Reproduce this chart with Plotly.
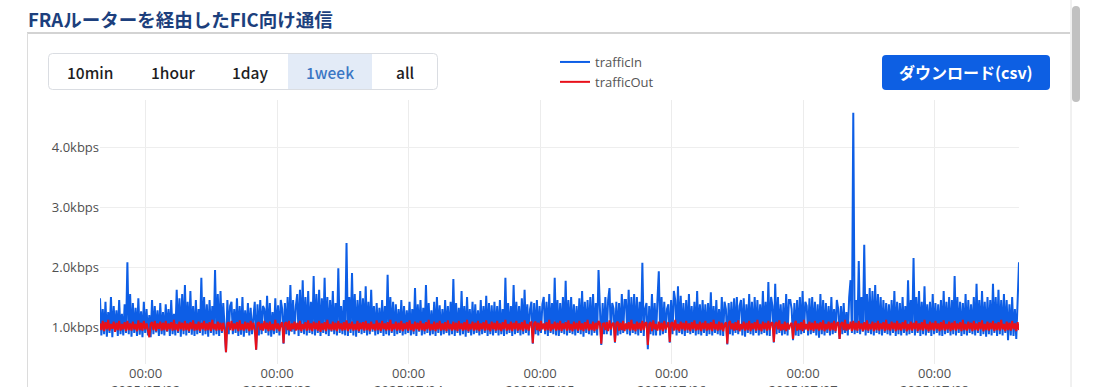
import plotly.graph_objects as go
import pandas as pd

# ---------------- data (kbps, 15-minute samples over one week) ----------------
start_time = "2025-07-01 15:40"
traffic_in = [
    # day 0
    1.48, 0.86, 1.3, 0.88, 1.42, 0.84, 1.25, 0.9, 1.5, 0.83, 1.35, 0.92,
    1.28, 0.85, 1.45, 0.88, 1.22, 0.86, 1.38, 0.9, 2.08, 0.88, 1.55, 0.84,
    1.4, 0.9, 1.32, 0.85, 1.48, 0.87, 1.26, 0.83, 1.42, 0.9, 1.3, 0.86,
    1.2, 0.83, 1.45, 0.88, 1.35, 0.91, 1.28, 0.85, 1.4, 0.88, 1.25, 0.86,
    1.38, 0.92, 1.3, 0.85, 1.45, 0.88, 1.22, 0.86, 1.62, 0.9, 1.48, 0.84,
    1.55, 0.88, 1.7, 0.86, 1.42, 0.9, 1.6, 0.87, 1.35, 0.85, 1.45, 0.88,
    1.3, 0.9, 1.82, 0.86, 1.5, 0.88, 1.38, 0.84, 1.45, 0.9, 1.35, 0.86,
    1.95, 0.88, 1.55, 0.85, 1.6, 0.9, 1.4, 0.86, 0.58, 1.45, 0.88, 1.35,
    # day 1
    1.42, 0.88, 1.3, 0.9, 1.48, 0.85, 1.35, 0.87, 1.5, 0.84, 1.28, 0.9,
    1.4, 0.86, 1.32, 0.88, 1.25, 1.42, 0.62, 1.38, 0.86, 1.45, 0.88, 1.35,
    1.3, 0.9, 1.52, 0.86, 1.4, 0.84, 1.25, 0.88, 1.48, 0.9, 1.36, 0.86,
    1.45, 1.3, 0.72, 1.4, 0.88, 1.5, 0.86, 1.7, 0.92, 1.45, 0.88, 1.35,
    1.55, 0.85, 1.62, 0.9, 1.78, 0.88, 1.5, 0.86, 1.6, 0.9, 1.42, 0.88,
    1.85, 0.86, 1.55, 0.9, 1.62, 0.85, 1.48, 0.9, 1.82, 0.88, 1.5, 0.85,
    1.45, 0.92, 1.6, 0.88, 1.4, 0.86, 1.98, 0.9, 1.35, 0.88, 1.45, 0.86,
    2.4, 0.85, 1.5, 0.9, 1.9, 0.86, 1.55, 0.84, 1.45, 0.9, 1.6, 0.88,
    # day 2
    1.48, 0.9, 1.68, 0.86, 1.42, 0.88, 1.62, 0.92, 1.35, 0.86, 1.4, 0.88,
    1.32, 0.9, 1.45, 0.85, 1.35, 0.88, 1.87, 0.86, 1.5, 0.9, 1.42, 0.85,
    1.38, 0.88, 1.3, 0.9, 1.45, 0.86, 1.35, 0.88, 1.28, 0.9, 1.42, 0.86,
    1.3, 0.88, 1.65, 0.85, 1.38, 0.92, 1.45, 0.86, 1.32, 0.88, 1.7, 0.9,
    1.4, 0.86, 1.28, 0.88, 1.42, 0.85, 1.5, 0.9, 1.36, 0.86, 1.3, 0.88,
    1.45, 0.9, 1.35, 0.86, 1.42, 0.88, 1.8, 0.85, 1.4, 0.9, 1.32, 0.86,
    1.6, 0.88, 1.35, 0.84, 1.5, 0.9, 1.3, 0.86, 1.42, 0.88, 1.38, 0.9,
    1.28, 0.86, 1.45, 0.88, 1.35, 0.9, 1.52, 0.85, 1.4, 0.88, 1.36, 0.86,
    # day 3
    1.42, 0.9, 1.35, 0.86, 1.45, 0.88, 1.3, 0.85, 1.82, 0.88, 1.4, 0.9,
    1.35, 0.85, 1.7, 0.88, 1.42, 0.9, 1.35, 0.86, 1.48, 0.88, 1.62, 0.9,
    1.38, 0.86, 1.3, 1.42, 0.72, 1.4, 0.88, 1.45, 0.86, 1.35, 0.9, 1.38,
    1.5, 0.88, 1.42, 0.85, 1.55, 0.9, 1.4, 0.88, 1.82, 0.86, 1.45, 0.85,
    1.4, 0.9, 1.5, 0.88, 1.77, 0.86, 1.45, 0.9, 1.5, 0.88, 1.38, 0.86,
    1.35, 0.9, 1.48, 0.88, 1.6, 0.84, 1.42, 0.9, 1.45, 0.88, 1.5, 0.86,
    1.55, 0.9, 1.4, 0.86, 1.95, 1.3, 0.7, 1.4, 0.88, 1.5, 0.88, 1.45,
    1.65, 0.86, 1.4, 1.3, 0.74, 1.42, 0.86, 1.4, 0.88, 1.55, 0.9, 1.45,
    # day 4
    1.45, 0.88, 1.62, 0.86, 1.5, 0.9, 1.55, 0.88, 1.5, 0.86, 1.42, 0.9,
    2.07, 0.85, 1.3, 1.4, 0.63, 1.35, 0.88, 1.55, 0.86, 1.4, 0.86, 1.45,
    1.93, 0.86, 1.5, 0.88, 1.42, 0.9, 1.3, 1.38, 0.74, 1.45, 0.88, 1.6,
    1.45, 0.86, 1.68, 0.9, 1.52, 0.88, 1.4, 0.85, 1.45, 0.9, 1.55, 0.88,
    1.35, 0.9, 1.42, 0.86, 1.6, 0.88, 1.38, 0.86, 1.45, 0.9, 1.38, 0.85,
    1.4, 0.88, 1.58, 0.86, 1.35, 0.9, 1.45, 0.88, 1.3, 0.86, 1.5, 0.85,
    1.42, 1.3, 0.71, 1.4, 0.88, 1.42, 0.86, 1.48, 0.9, 1.5, 0.88, 1.35,
    1.45, 0.86, 1.48, 0.84, 1.38, 0.9, 1.55, 0.88, 1.42, 0.86, 1.5, 0.9,
    # day 5
    1.45, 0.86, 1.38, 0.88, 1.6, 0.9, 1.42, 0.86, 1.75, 0.85, 1.5, 1.35,
    0.74, 1.72, 0.88, 1.5, 0.9, 1.38, 0.86, 1.4, 0.88, 1.55, 0.86, 1.45,
    1.45, 1.3, 0.78, 1.4, 0.86, 1.45, 0.85, 1.5, 0.88, 1.6, 0.9, 1.42,
    1.35, 0.86, 1.48, 0.88, 1.5, 0.9, 1.42, 0.86, 1.38, 0.82, 1.55, 0.88,
    1.45, 0.86, 1.4, 0.9, 1.35, 0.86, 1.5, 0.88, 1.3, 0.9, 1.45, 1.3,
    0.8, 1.35, 0.88, 1.4, 0.9, 1.25, 0.86, 1.5, 1.78, 0.9, 4.57, 0.88,
    1.45, 0.9, 2.1, 0.88, 1.5, 0.92, 2.37, 0.86, 1.55, 0.9, 1.65, 0.88,
    1.6, 0.86, 1.7, 0.9, 1.55, 0.88, 1.5, 0.86, 1.45, 0.9, 1.4, 0.88,
    # day 6
    1.38, 0.86, 1.45, 0.9, 1.6, 0.85, 1.42, 0.88, 1.4, 0.86, 1.5, 0.9,
    1.35, 0.86, 1.78, 0.88, 1.45, 0.9, 2.15, 0.86, 1.5, 0.9, 1.6, 0.85,
    1.42, 0.88, 1.68, 0.86, 1.38, 0.9, 1.42, 0.85, 1.55, 0.88, 1.4, 0.9,
    1.38, 0.86, 1.45, 0.85, 1.6, 0.88, 1.42, 0.9, 1.5, 0.86, 1.45, 0.88,
    1.85, 0.86, 1.5, 0.9, 1.42, 0.85, 1.4, 0.88, 1.55, 0.86, 1.45, 0.9,
    1.38, 0.88, 1.5, 0.86, 1.72, 0.9, 1.45, 0.85, 1.6, 0.88, 1.42, 0.84,
    1.5, 0.88, 1.45, 0.86, 1.72, 0.9, 1.5, 0.85, 1.62, 0.88, 1.45, 0.86,
    1.55, 0.9, 1.45, 0.78, 1.38, 0.86, 1.5, 0.85, 1.3, 0.8, 1.6, 2.08,
]
traffic_out = [
    # day 0
    1.06, 0.95, 1.1, 0.93, 1.08, 0.96, 1.12, 0.94, 1.05, 0.97, 1.09, 0.92,
    1.07, 0.95, 1.1, 0.94, 1.05, 0.96, 1.08, 0.93, 1.1, 0.95, 1.06, 0.94,
    1.09, 0.96, 1.05, 0.93, 1.11, 0.95, 1.07, 0.94, 1.1, 0.96, 1.06, 0.93,
    0.83, 1.05, 1.08, 0.95, 1.1, 0.93, 1.06, 0.97, 1.09, 0.94, 1.07, 0.95,
    1.1, 0.93, 1.06, 0.96, 1.08, 0.94, 1.12, 0.95, 1.05, 0.93, 1.09, 0.96,
    1.07, 0.94, 1.1, 0.95, 1.06, 0.93, 1.08, 0.96, 1.11, 0.94, 1.05, 0.95,
    1.09, 0.93, 1.07, 0.96, 1.1, 0.94, 1.06, 0.95, 1.08, 0.93, 1.12, 0.96,
    1.05, 0.94, 1.09, 0.95, 1.07, 0.93, 1.07, 0.95, 0.58, 1.06, 1.08, 0.95,
    # day 1
    1.1, 0.94, 1.06, 0.96, 1.08, 0.93, 1.11, 0.95, 1.05, 0.94, 1.09, 0.96,
    1.07, 0.93, 1.1, 0.95, 1.07, 0.95, 0.62, 1.06, 1.08, 0.95, 1.06, 0.94,
    1.1, 0.96, 1.07, 0.93, 1.09, 0.95, 1.05, 0.94, 1.12, 0.96, 1.06, 0.93,
    1.04, 1.08, 0.73, 1.06, 1.08, 0.95, 1.1, 0.93, 1.06, 0.96, 1.09, 0.94,
    1.07, 0.95, 1.1, 0.93, 1.05, 0.96, 1.08, 0.94, 1.11, 0.95, 1.06, 0.93,
    1.09, 0.96, 1.07, 0.94, 1.1, 0.92, 1.06, 0.95, 1.08, 0.93, 1.12, 0.96,
    1.05, 0.94, 1.09, 0.95, 1.07, 0.93, 1.1, 0.96, 1.06, 0.94, 1.08, 0.95,
    1.11, 0.93, 1.06, 0.96, 1.09, 0.94, 1.05, 0.95, 1.1, 0.93, 1.07, 0.96,
    # day 2
    1.08, 0.94, 1.1, 0.95, 1.06, 0.93, 1.09, 0.96, 1.05, 0.94, 1.11, 0.95,
    1.07, 0.93, 1.1, 0.96, 1.06, 0.94, 1.08, 0.95, 1.12, 0.93, 1.05, 0.96,
    1.09, 0.94, 1.07, 0.95, 1.1, 0.93, 1.06, 0.96, 1.08, 0.94, 1.11, 0.95,
    1.05, 0.93, 1.09, 0.96, 1.07, 0.94, 1.1, 0.95, 1.06, 0.93, 1.08, 0.96,
    1.12, 0.94, 1.05, 0.95, 1.09, 0.93, 1.07, 0.96, 1.1, 0.94, 1.06, 0.95,
    1.08, 0.93, 1.11, 0.96, 1.05, 0.94, 1.09, 0.95, 1.07, 0.93, 1.1, 0.96,
    1.06, 0.94, 1.08, 0.95, 1.12, 0.93, 1.05, 0.96, 1.09, 0.94, 1.07, 0.95,
    1.1, 0.93, 1.06, 0.96, 1.08, 0.94, 1.11, 0.95, 1.05, 0.93, 1.09, 0.96,
    # day 3
    1.07, 0.94, 1.1, 0.95, 1.06, 0.93, 1.08, 0.96, 1.12, 0.94, 1.05, 0.95,
    1.09, 0.93, 1.07, 0.96, 1.1, 0.94, 1.06, 0.95, 1.08, 0.93, 1.11, 0.96,
    1.05, 0.94, 1.07, 1.08, 0.73, 1.06, 1.09, 0.95, 1.07, 0.93, 1.1, 0.96,
    1.06, 0.94, 1.08, 0.95, 1.12, 0.93, 1.05, 0.96, 1.09, 0.94, 1.07, 0.95,
    1.1, 0.93, 1.06, 0.96, 1.08, 0.94, 1.11, 0.95, 1.05, 0.93, 1.09, 0.96,
    1.07, 0.94, 1.1, 0.95, 1.06, 0.93, 1.08, 0.96, 1.12, 0.94, 1.05, 0.95,
    1.09, 0.93, 1.07, 0.96, 1.1, 1.06, 0.72, 1.05, 1.06, 0.95, 1.08, 0.93,
    1.11, 0.96, 1.05, 1.07, 0.75, 1.06, 1.09, 0.94, 1.07, 0.95, 1.1, 0.93,
    # day 4
    1.06, 0.96, 1.08, 0.94, 1.12, 0.95, 1.05, 0.93, 1.09, 0.96, 1.07, 0.94,
    1.1, 0.95, 1.06, 1.08, 0.7, 1.05, 1.08, 0.93, 1.11, 0.96, 1.05, 0.94,
    1.09, 0.95, 1.07, 0.93, 1.1, 0.96, 1.04, 1.08, 0.75, 1.06, 1.08, 0.94,
    1.12, 0.95, 1.05, 0.93, 1.09, 0.96, 1.07, 0.94, 1.1, 0.95, 1.06, 0.93,
    1.08, 0.96, 1.11, 0.94, 1.05, 0.95, 1.09, 0.93, 1.07, 0.96, 1.1, 0.94,
    1.06, 0.95, 1.08, 0.93, 1.12, 0.96, 1.05, 0.94, 1.09, 0.95, 1.07, 0.93,
    1.04, 1.08, 0.72, 1.06, 1.1, 0.96, 1.06, 0.94, 1.08, 0.95, 1.11, 0.93,
    1.05, 0.96, 1.09, 0.94, 1.07, 0.95, 1.1, 0.93, 1.06, 0.96, 1.08, 0.94,
    # day 5
    1.12, 0.95, 1.05, 0.93, 1.09, 0.96, 1.07, 0.94, 1.1, 0.95, 1.06, 1.08,
    0.75, 1.05, 1.08, 0.96, 1.11, 0.94, 1.05, 0.95, 1.09, 0.93, 1.07, 0.96,
    1.04, 1.07, 0.8, 1.05, 1.1, 0.94, 1.06, 0.95, 1.08, 0.93, 1.12, 0.96,
    1.05, 0.94, 1.09, 0.95, 1.07, 0.93, 1.1, 0.96, 1.06, 0.94, 1.08, 0.95,
    1.11, 0.93, 1.05, 0.96, 1.09, 0.94, 1.07, 0.95, 1.1, 0.93, 1.06, 1.08,
    0.8, 1.05, 1.08, 0.95, 1.12, 0.94, 1.05, 0.96, 1.09, 0.93, 1.1, 0.95,
    1.07, 0.94, 1.1, 0.96, 1.06, 0.93, 1.08, 0.95, 1.11, 0.94, 1.05, 0.96,
    1.09, 0.93, 1.07, 0.95, 1.1, 0.94, 1.06, 0.96, 1.08, 0.93, 1.12, 0.95,
    # day 6
    1.05, 0.94, 1.09, 0.96, 1.07, 0.93, 1.1, 0.95, 1.06, 0.94, 1.08, 0.96,
    1.11, 0.93, 1.05, 0.95, 1.09, 0.94, 1.07, 0.96, 1.1, 0.93, 1.06, 0.95,
    1.08, 0.94, 1.12, 0.96, 1.05, 0.93, 1.09, 0.95, 1.07, 0.94, 1.1, 0.96,
    1.06, 0.93, 1.08, 0.95, 1.11, 0.94, 1.05, 0.96, 1.09, 0.93, 1.07, 0.95,
    1.1, 0.94, 1.06, 0.96, 1.08, 0.93, 1.12, 0.95, 1.05, 0.94, 1.09, 0.96,
    1.07, 0.93, 1.1, 0.95, 1.06, 0.94, 1.08, 0.96, 1.11, 0.93, 1.05, 0.95,
    1.09, 0.94, 1.07, 0.96, 1.1, 0.93, 1.06, 0.95, 1.08, 0.94, 1.12, 0.96,
    1.05, 0.93, 1.09, 0.95, 1.07, 0.94, 1.1, 0.96, 1.06, 0.93, 1.08, 0.95,
]
series_names = ["trafficIn", "trafficOut"]
range_buttons = ["10min", "1hour", "1day", "1week", "all"]
selected_button = "1week"
y_tick_values = [1, 2, 3, 4]
y_tick_labels = ["1.0kbps", "2.0kbps", "3.0kbps", "4.0kbps"]
title_text = "FRAルーターを経由したFIC向け通信"
download_text = "ダウンロード(csv)"

time_in = pd.date_range(start_time, periods=len(traffic_in), freq="15min")
time_out = pd.date_range(start_time, periods=len(traffic_out), freq="15min")

# ---------------- layout geometry ----------------
W, H = 1104, 387
ML, MR, MT, MB = 100, 85, 100, 23
PW = W - ML - MR
PH = H - MT - MB


def px(x):
    return (x - ML) / PW


def py(y):
    return (H - MB - y) / PH


def rrect(x0, y0, x1, y1, r):
    return (f"M {px(x0 + r)},{py(y0)} L {px(x1 - r)},{py(y0)} "
            f"Q {px(x1)},{py(y0)} {px(x1)},{py(y0 + r)} L {px(x1)},{py(y1 - r)} "
            f"Q {px(x1)},{py(y1)} {px(x1 - r)},{py(y1)} L {px(x0 + r)},{py(y1)} "
            f"Q {px(x0)},{py(y1)} {px(x0)},{py(y1 - r)} L {px(x0)},{py(y0 + r)} "
            f"Q {px(x0)},{py(y0)} {px(x0 + r)},{py(y0)} Z")


JP = "Noto Sans CJK JP, Noto Sans, sans-serif"
TICKFONT = dict(family="Open Sans, Verdana, Arial, sans-serif", size=13, color="#505050")

fig = go.Figure()
fig.add_trace(go.Scatter(x=time_in, y=traffic_in, mode="lines", name=series_names[0],
                         line=dict(color="#0d5ee6", width=2)))
fig.add_trace(go.Scatter(x=time_out, y=traffic_out, mode="lines", name=series_names[1],
                         line=dict(color="#e8101a", width=2)))

shapes = []
annotations = []

# card borders and scrollbar
shapes.append(dict(type="line", xref="paper", yref="paper", x0=px(27), x1=px(1070), y0=py(33), y1=py(33),
                   line=dict(color="#c4c4c4", width=1.5)))
shapes.append(dict(type="line", xref="paper", yref="paper", x0=px(27.5), x1=px(27.5), y0=py(33), y1=py(400),
                   line=dict(color="#dcdcdc", width=1)))
shapes.append(dict(type="line", xref="paper", yref="paper", x0=px(1071), x1=px(1071), y0=py(0), y1=py(400),
                   line=dict(color="#e2e2e2", width=1)))
shapes.append(dict(type="path", xref="paper", yref="paper", path=rrect(1072, 6, 1080, 102, 4),
                   fillcolor="#c1c1c1", line=dict(width=0)))

# button group
shapes.append(dict(type="path", xref="paper", yref="paper", path=rrect(48.5, 53.5, 437.5, 89.5, 4),
                   fillcolor="#ffffff", line=dict(color="#dadde2", width=1)))
btn_centers = [90, 173, 250, 330, 405]
sel_idx = range_buttons.index(selected_button)
shapes.append(dict(type="rect", xref="paper", yref="paper", x0=px(288), x1=px(372), y0=py(54), y1=py(89),
                   fillcolor="#e3ebf7", line=dict(width=0)))
for i, (lab, cx) in enumerate(zip(range_buttons, btn_centers)):
    annotations.append(dict(xref="paper", yref="paper", x=px(cx), y=py(72), text=lab, showarrow=False,
                            xanchor="center", yanchor="middle",
                            font=dict(family=JP, size=15.5, weight=500,
                                      color="#3a76c4" if i == sel_idx else "#1e1e1e")))

# download button
shapes.append(dict(type="path", xref="paper", yref="paper", path=rrect(882, 55, 1050, 90, 4),
                   fillcolor="#0d5fe3", line=dict(width=0)))
annotations.append(dict(xref="paper", yref="paper", x=px(966), y=py(72.5), text=download_text, showarrow=False,
                        xanchor="center", yanchor="middle",
                        font=dict(family=JP, size=16, weight="bold", color="#ffffff")))

# title
annotations.append(dict(xref="paper", yref="paper", x=px(26), y=py(19), text=title_text, showarrow=False,
                        xanchor="left", yanchor="middle",
                        font=dict(family=JP, size=18.5, weight="bold", color="#1c3f7d")))

fig.update_layout(
    width=W, height=H,
    margin=dict(l=ML, r=MR, t=MT, b=MB, autoexpand=False),
    paper_bgcolor="#ffffff", plot_bgcolor="#ffffff",
    showlegend=True,
    legend=dict(x=px(555), y=py(47), xanchor="left", yanchor="top",
                font=dict(family="Open Sans, Verdana, Arial, sans-serif", size=13, color="#555555"),
                bgcolor="rgba(0,0,0,0)", tracegroupgap=0),
    shapes=shapes, annotations=annotations,
    xaxis=dict(type="date", range=[time_in[0], time_in[-1]], automargin=False,
               tick0="2025-07-02", dtick=86400000, tickformat="%H:%M<br>%Y/%m/%d",
               showgrid=True, gridcolor="#ececec", gridwidth=1, zeroline=False, showline=False,
               ticks="", tickfont=TICKFONT),
    yaxis=dict(range=[1 - 37 / 60, 1 + 227 / 60], automargin=False,
               tickmode="array", tickvals=y_tick_values, ticktext=y_tick_labels,
               showgrid=True, gridcolor="#eeeeee", gridwidth=1, zeroline=False, showline=False,
               ticks="", tickfont=TICKFONT),
    hovermode="x unified",
)

fig.write_html("out.html")
